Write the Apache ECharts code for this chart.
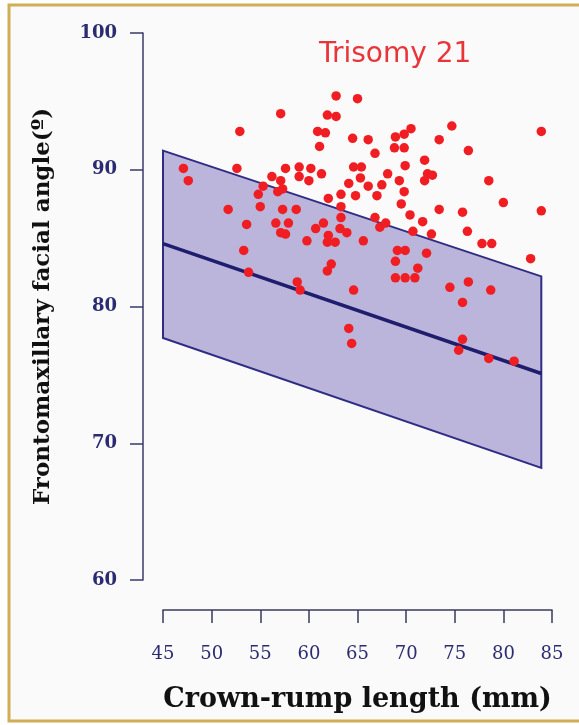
<!DOCTYPE html>
<html>
<head>
<meta charset="utf-8">
<script src="https://cdn.jsdelivr.net/npm/echarts@6/dist/echarts.min.js"></script>
<style>
html,body{margin:0;padding:0;background:#ffffff;}
#c{width:579px;height:725px;}
</style>
</head>
<body>
<div id="c"></div>
<script>
// ---- data ----
const xTicks = [45, 50, 55, 60, 65, 70, 75, 80, 85];
const yTicks = [60, 70, 80, 90, 100];
const chartTitle = 'Trisomy 21';
const xName = 'Crown-rump length (mm)';
const yName = 'Frontomaxillary facial angle(º)';

// reference range band (upper and lower limits at CRL ends)
const bandUpper = [[45, 91.4], [83.9, 82.2]];
const bandLower = [[45, 77.7], [83.9, 68.2]];
// median regression line
const medianLine = [[45, 84.6], [83.9, 75.1]];

// trisomy 21 cases: CRL (mm)
const crl = [
  47.1, 47.6, 52.9, 52.6, 57.1, 51.7, 53.6, 53.3, 53.8, 54.8,
  55.0, 55.3, 56.2, 56.8, 57.3, 57.1, 57.6, 57.3, 56.6, 57.9,
  57.1, 57.6, 59.0, 59.0, 58.7, 58.8, 59.1, 59.8, 60.2, 60.0,
  61.3, 60.9, 61.7, 61.1, 61.9, 62.8, 62.8, 65.0, 64.5, 66.1,
  66.8, 64.6, 65.4, 65.3, 64.1, 66.1, 67.5, 62.0, 63.3, 64.8,
  67.0, 63.3, 63.3, 66.8, 61.5, 60.7, 63.2, 63.9, 62.0, 61.9,
  62.7, 65.6, 62.3, 61.9, 64.6, 64.1, 64.4, 67.9, 67.3, 68.9,
  69.8, 70.5, 68.8, 69.8, 71.9, 69.9, 68.1, 69.3, 72.2, 71.9,
  69.8, 69.5, 70.4, 71.7, 70.7, 72.6, 69.1, 69.9, 72.1, 68.9,
  71.2, 68.9, 69.9, 70.9, 73.4, 74.7, 73.4, 76.4, 83.9, 72.7,
  78.5, 80.0, 75.8, 83.9, 76.3, 77.8, 78.8, 82.8, 76.4, 74.5,
  78.7, 75.8, 75.8, 75.4, 78.5, 81.1
];
// trisomy 21 cases: frontomaxillary facial angle (degrees)
const fmfAngle = [
  90.1, 89.2, 92.8, 90.1, 94.1, 87.1, 86.0, 84.1, 82.5, 88.2,
  87.3, 88.8, 89.5, 88.4, 88.6, 89.2, 90.1, 87.1, 86.1, 86.1,
  85.4, 85.3, 90.2, 89.5, 87.1, 81.8, 81.2, 84.8, 90.1, 89.2,
  89.7, 92.8, 92.7, 91.7, 94.0, 93.9, 95.4, 95.2, 92.3, 92.2,
  91.2, 90.2, 90.2, 89.4, 89.0, 88.8, 88.9, 87.9, 88.2, 88.1,
  88.1, 87.3, 86.5, 86.5, 86.1, 85.7, 85.7, 85.4, 85.2, 84.7,
  84.7, 84.8, 83.1, 82.6, 81.2, 78.4, 77.3, 86.1, 85.8, 92.4,
  92.6, 93.0, 91.6, 91.6, 90.7, 90.3, 89.7, 89.2, 89.7, 89.2,
  88.4, 87.5, 86.7, 86.2, 85.5, 85.3, 84.1, 84.1, 83.9, 83.3,
  82.8, 82.1, 82.1, 82.1, 87.1, 93.2, 92.2, 91.4, 92.8, 89.6,
  89.2, 87.6, 86.9, 87.0, 85.5, 84.6, 84.6, 83.5, 81.8, 81.4,
  81.2, 80.3, 77.6, 76.8, 76.2, 76.0
];

// ---- chart ----
const points = crl.map((x, i) => [x, fmfAngle[i]]);
const navy = '#2b2b72';
const serif = '"DejaVu Serif", "Liberation Serif", serif';

const chart = echarts.init(document.getElementById('c'), null, {renderer: 'canvas'});
chart.setOption({
  backgroundColor: '#ffffff',
  animation: false,
  graphic: [{
    type: 'rect', z: -10,
    shape: {x: 9, y: 5, width: 572, height: 716},
    style: {fill: '#fafafa', stroke: '#cfae55', lineWidth: 3}
  }],
  title: {
    text: chartTitle,
    left: 314, top: 36,
    textStyle: {color: '#e8353a', fontFamily: '"DejaVu Sans", sans-serif', fontWeight: 'normal', fontSize: 28}
  },
  grid: {left: 163, right: 27, top: 33, bottom: 145, containLabel: false},
  xAxis: {
    type: 'value', min: 45, max: 85, interval: 5,
    offset: 30,
    name: xName, nameLocation: 'middle', nameGap: 76,
    nameTextStyle: {color: '#111', fontFamily: serif, fontWeight: 'bold', fontSize: 27},
    axisLine: {show: true, lineStyle: {color: '#3a3a5a', width: 1.5}},
    axisTick: {show: true, length: 13, lineStyle: {color: '#3a3a5a', width: 1.5}},
    axisLabel: {
      margin: 35, color: navy, fontFamily: serif, fontSize: 18,
      formatter: v => xTicks.includes(v) ? String(v) : ''
    },
    splitLine: {show: false}
  },
  yAxis: {
    type: 'value', min: 60, max: 100, interval: 10,
    offset: 20,
    name: yName, nameLocation: 'middle', nameGap: 88, nameRotate: 90,
    nameTextStyle: {color: '#111', fontFamily: serif, fontWeight: 'bold', fontSize: 23},
    axisLine: {show: true, lineStyle: {color: '#3a3a6a', width: 1.5}},
    axisTick: {show: true, length: 13, lineStyle: {color: '#3a3a6a', width: 1.5}},
    axisLabel: {
      margin: 26, color: navy, fontFamily: serif, fontSize: 18, fontWeight: 'bold',
      formatter: v => yTicks.includes(v) ? String(v) : ''
    },
    splitLine: {show: false}
  },
  series: [
    {
      type: 'custom',
      data: [0],
      z: 1,
      silent: true,
      renderItem: (params, api) => {
        const pts = bandUpper.concat(bandLower.slice().reverse()).map(p => api.coord(p));
        return {
          type: 'polygon',
          shape: {points: pts},
          style: {fill: '#bbb4db', stroke: '#2e2c84', lineWidth: 2}
        };
      }
    },
    {
      type: 'line',
      data: medianLine,
      z: 2,
      symbol: 'none',
      lineStyle: {color: '#1f1d6e', width: 3.5}
    },
    {
      type: 'scatter',
      data: points,
      z: 3,
      symbol: 'circle',
      symbolSize: 9.5,
      itemStyle: {color: '#f01e22', opacity: 1}
    }
  ]
});
</script>
</body>
</html>
